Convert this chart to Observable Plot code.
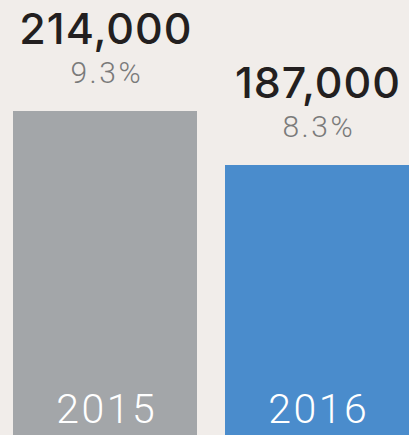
<!DOCTYPE html>
<html>
<head>
<meta charset="utf-8">
<script src="https://cdn.jsdelivr.net/npm/d3@7"></script>
<script src="https://cdn.jsdelivr.net/npm/@observablehq/plot@0.6"></script>
<style>
  html, body { margin: 0; padding: 0; background: #f1edea; }
  svg { display: block; }
</style>
</head>
<body>
<div id="chart"></div>
<script>
const years = ["2015", "2016"];
const values = [214000, 187000];
const shares = ["9.3%", "8.3%"];
const colors = ["#a3a6a9", "#4a8ccc"];

const data = years.map((y, i) => ({year: y, value: values[i], share: shares[i], color: colors[i]}));
const fmt = d3.format(",");

const chart = Plot.plot({
  width: 409,
  height: 435,
  margin: 0,
  style: {background: "#f1edea", fontFamily: "Roboto, sans-serif", overflow: "hidden"},
  x: {domain: years, range: [12, 410], paddingInner: 0.131, paddingOuter: 0, axis: null},
  y: {domain: [0, 269500], range: [539, 0], axis: null},
  marks: [
    Plot.barY(data, {x: "year", y: "value", fill: "color"}),
    Plot.text(data, {x: "year", y: "value", text: d => fmt(d.value), lineAnchor: "bottom", dy: -68, dx: 0.5,
      fontSize: 43, fontWeight: 500, fontFamily: "Inter, Roboto, sans-serif", fill: "#231f20"}),
    Plot.text(data, {x: "year", y: "value", text: "share", lineAnchor: "bottom", dy: -29, dx: 1.25,
      fontSize: 30, fontWeight: 300, fill: "#7a7a7a"}),
    Plot.text(data, {x: "year", text: "year", frameAnchor: "bottom", lineAnchor: "bottom", dy: -13, dx: 1.25,
      fontSize: 41, fontWeight: 300, fill: "#ffffff"})
  ]
});
const groups = d3.select(chart).selectAll("g[aria-label='text']").nodes();
d3.select(groups[0]).style("letter-spacing", "1px");
d3.select(groups[1]).style("letter-spacing", "2.5px");
d3.select(groups[2]).style("letter-spacing", "2.5px");
document.getElementById("chart").appendChild(chart);
</script>
</body>
</html>
